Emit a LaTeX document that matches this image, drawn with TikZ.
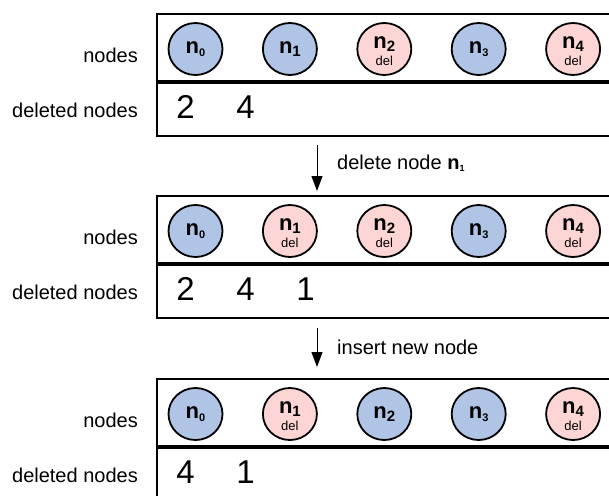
\documentclass[tikz,border=0pt]{standalone}
\usepackage{fontspec}
\setmainfont{Liberation Sans}
\usetikzlibrary{shapes.geometric,arrows.meta}
\definecolor{nblue}{HTML}{B0C4E6}
\definecolor{npink}{HTML}{FDD5D5}
\newcommand\nsub[1]{\ifnum#1=0 \raisebox{-3pt}{\fontsize{11}{11}\selectfont\bfseries #1}\else\ifnum#1=3 \raisebox{-3pt}{\fontsize{11}{11}\selectfont\bfseries #1}\else\raisebox{-3pt}{\fontsize{15}{15}\selectfont\bfseries #1}\fi\fi}
\begin{document}
\begin{tikzpicture}[x=1pt,y=-1pt,
  every node/.style={font=\fontsize{20}{24}\selectfont},
  live/.style={ellipse, draw, line width=1.8pt, fill=nblue, minimum width=54pt, minimum height=52pt, inner sep=0pt},
  gone/.style={live, fill=npink},
  nlabel/.style={inner sep=0pt, font=\fontsize{22}{26}\selectfont\bfseries},
  deltag/.style={inner sep=0pt, font=\fontsize{13}{15}\selectfont},
  rowlabel/.style={anchor=east, inner sep=0pt},
  digit/.style={inner sep=0pt, font=\fontsize{33}{36}\selectfont},
  rowbox/.style={draw, line width=1.8pt, minimum width=480pt, inner sep=0pt, anchor=north west},
  downarrow/.style={line width=1pt, -{Triangle[length=15pt,width=11pt]}},
  action/.style={anchor=west, inner sep=0pt}
]
\clip (0,0) rectangle (609,495);
\foreach \b/\t/\states in {1/13/{0,0,1,0,1}, 2/195/{0,1,1,0,1}, 3/378/{0,1,0,0,1}} {
  \node[rowbox, minimum height=67pt] (top\b) at (156,\t) {};
  \node[rowbox, minimum height=53pt] (bot\b) at (top\b.south west) {};
  \node[rowlabel] (lab\b) at (138,{\t+42}) {nodes};
  \node[rowlabel] (dlab\b) at (138,{\t+97}) {deleted nodes};
  \foreach \d [count=\i from 0] in \states {
    \ifnum\d=1
      \node[gone] (c\b\i) at ({195.5+94.4*\i},{\t+36}) {};
      \node[nlabel] (t\b\i) at ([yshift=5pt]c\b\i.center) {n\nsub{\i}};
      \node[deltag] (d\b\i) at ([yshift=-12pt]c\b\i.center) {del};
    \else
      \node[live] (c\b\i) at ({195.5+94.4*\i},{\t+36}) {};
      \node[nlabel] (t\b\i) at (c\b\i.center) {n\nsub{\i}};
    \fi
  }
}
\foreach \b/\k/\v in {1/0/2, 1/1/4, 2/0/2, 2/1/4, 2/2/1, 3/0/4, 3/1/1} {
  \path (bot\b.west) ++({185.5-156+60*\k},-2) node[digit] (g\b\k) {\v};
}
\coordinate (a1s) at (317,145);
\coordinate (a1e) at (317,191);
\coordinate (a2s) at (317,328);
\coordinate (a2e) at (317,367);
\draw[downarrow] (a1s) -- (a1e);
\draw[downarrow] (a2s) -- (a2e);
\node[action] (act1) at (337,163) {delete node \textbf{n}\raisebox{-2pt}{\fontsize{9}{9}\selectfont\bfseries 1}};
\node[action] (act2) at (337,347) {insert new node};
\end{tikzpicture}
\end{document}
